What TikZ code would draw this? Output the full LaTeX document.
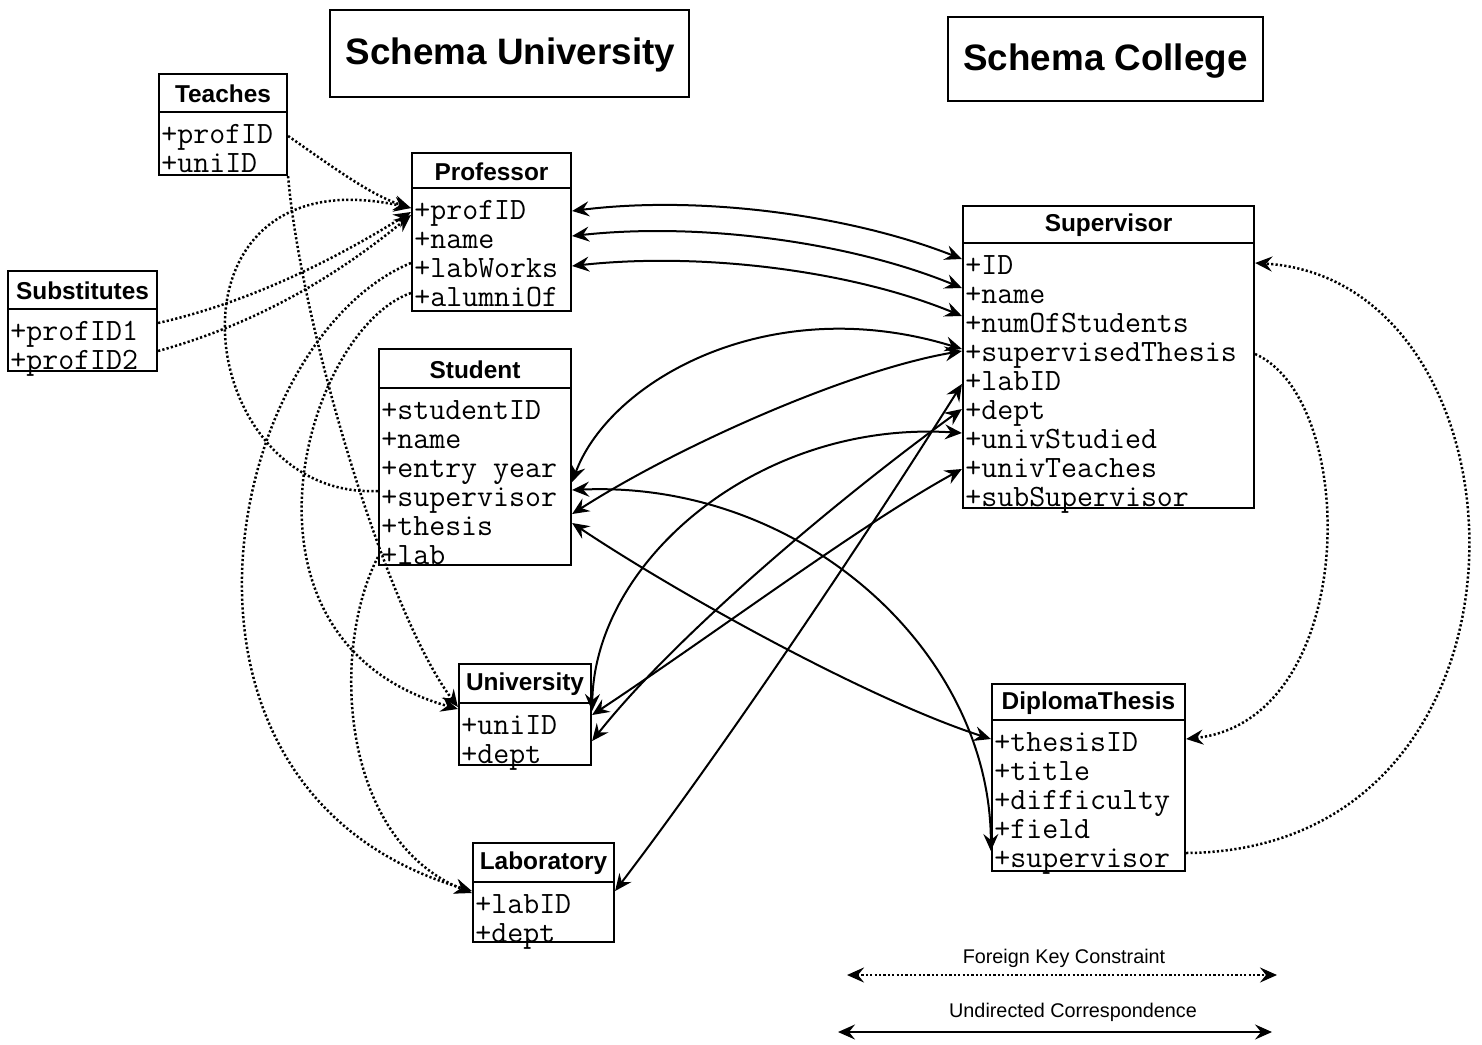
\documentclass[tikz,border=0pt]{standalone}
\usepackage{fontspec}
\setmainfont{Liberation Sans}
\usetikzlibrary{arrows.meta,calc,fit}

\tikzset{
  hd/.tip={Stealth[length=8.5pt,width=7.5pt,inset=3pt]},
  classline/.style={line width=1.1pt},
  hdr/.style={font=\fontsize{12.2}{14}\selectfont\bfseries, inner sep=0pt},
  attr/.style={font=\fontsize{15.5}{18}\selectfont\ttfamily, inner sep=0pt,
               anchor=base west, text height=10pt, text depth=3pt},
  titletext/.style={font=\fontsize{18.4}{22}\selectfont\bfseries, inner sep=0pt},
  legendtext/.style={font=\fontsize{9.9}{12}\selectfont, inner sep=0pt},
  corr/.style={line width=1pt, arrows={hd-hd}},
  fkey/.style={line width=1.25pt, dash pattern=on 1.1pt off 1.1pt, arrows={-hd}},
}

% #1 id, #2 class name, #3-#6 box corners, #7 y of the rule under the name, #8 attributes
\newcommand{\umlclass}[8]{%
  \node[fit={(#3,#4) (#5,#6)}, inner sep=0pt, draw, classline] (#1) {};
  \draw[classline] (#3,#7) -- (#5,#7);
  \node[hdr] (#1-title) at ({(#3+#5)/2},{(#4+#7)/2+1}) {#2};
  \foreach \attrtext [count=\i] in {#8} {
    \node[attr] (#1-\i) at ({#3+2},{#7+31+29*(\i-1)}) {\attrtext};
    \coordinate (#1-\i-w) at (#1.west |- #1-\i);
    \coordinate (#1-\i-e) at (#1.east |- #1-\i);
  }
}

\begin{document}
\begin{tikzpicture}[x=0.5pt, y=-0.5pt]
\fill[white] (0,0) rectangle (1482,1044);
\useasboundingbox (0,0) rectangle (1482,1044);

% schema titles
\node[fit={(330,10) (689,97)}, inner sep=0pt, draw, classline] (uni-box) {};
\node[titletext] (uni-name) at ($(uni-box.center)+(1,1)$) {Schema University};
\node[fit={(948,17) (1263,101)}, inner sep=0pt, draw, classline] (col-box) {};
\node[titletext] (col-name) at ($(col-box.center)+(0,2)$) {Schema College};

% classes of Schema University
\umlclass{teach}{Teaches}{159}{74}{287}{175}{112}{+profID,+uniID}
\umlclass{subs}{Substitutes}{8}{271}{157}{371}{309}{+profID1,+profID2}
\umlclass{prof}{Professor}{412}{153}{571}{311}{188}{+profID,+name,+labWorks,+alumniOf}
\umlclass{stud}{Student}{379}{349}{571}{565}{388}{+studentID,+name,+entry year,+supervisor,+thesis,+lab}
\umlclass{univ}{University}{459}{664}{591}{765}{703}{+uniID,+dept}
\umlclass{lab}{Laboratory}{473}{843}{614}{942}{882}{+labID,+dept}

% classes of Schema College
\umlclass{sup}{Supervisor}{963}{206}{1254}{508}{243}{+ID,+name,+numOfStudents,+supervisedThesis,+labID,+dept,+univStudied,+univTeaches,+subSupervisor}
\umlclass{dip}{DiplomaThesis}{992}{684}{1185}{871}{720}{+thesisID,+title,+difficulty,+field,+supervisor}

% correspondences
\draw[corr] ($(prof-1-e)+(0,-1)$) .. controls (700,195) and (850,215) .. ($(sup-1-w)+(0,-8)$);
\draw[corr] ($(prof-2-e)+(0,-5)$) .. controls (700,222) and (850,242) .. ($(sup-2-w)+(0,-8)$);
\draw[corr] ($(prof-3-e)+(0,-4)$) .. controls (700,252) and (850,270) .. ($(sup-3-w)+(0,-9)$);
\draw[corr] ($(stud-4-e)+(0,-17)$) .. controls (610,380) and (770,290) .. ($(sup-4-w)+(0,-5)$);
\draw[corr] ($(stud-5-e)+(0,-14)$) .. controls (680,445) and (850,370) .. ($(sup-4-w)+(0,-3)$);
\draw[corr] ($(stud-5-e)+(0,-5)$) .. controls (680,595) and (870,700) .. ($(dip-1-w)+(0,-5)$);
\draw[corr] ($(stud-4-e)+(0,-9)$) .. controls (800,480) and (990,650) .. ($(dip-5-w)+(0,-9)$);
\draw[corr] ($(univ-1-e)+(0,-16)$) .. controls (595,560) and (760,420) .. ($(sup-7-w)+(0,-8)$);
\draw[corr] ($(univ-1-e)+(0,-12)$) .. controls (720,630) and (860,525) .. ($(sup-8-w)+(0,-1)$);
\draw[corr] ($(univ-2-e)+(0,-15)$) .. controls (680,630) and (850,490) .. ($(sup-6-w)+(0,-3)$);
\draw[corr] ($(lab-1-e)+(0,-15)$) .. controls (730,740) and (870,530) .. ($(sup-5-w)+(0,1)$);

% foreign keys
\draw[fkey] (teach-1-e) .. controls (330,165) and (370,195) .. ($(prof-1-w)+(0,-4)$);
\draw[fkey] ($(subs-1-e)+(0,-10)$) .. controls (260,300) and (350,250) .. (prof-1-w);
\draw[fkey] ($(subs-2-e)+(0,-11)$) .. controls (270,320) and (350,265) .. ($(prof-1-w)+(0,3)$);
\draw[fkey] ($(stud-4-w)+(0,-8)$) .. controls (190,500) and (150,150) .. ($(prof-1-w)+(0,-4)$);
\draw[fkey] ($(prof-3-w)+(0,-7)$) .. controls (225,340) and (130,790) .. ($(lab-1-w)+(0,-15)$);
\draw[fkey] ($(prof-4-w)+(0,-6)$) .. controls (305,330) and (215,640) .. ($(univ-1-w)+(0,-18)$);
\draw[fkey] (stud-6-w) .. controls (330,650) and (340,840) .. ($(lab-1-w)+(0,-13)$);
\draw[fkey] (teach.south east) .. controls (300,320) and (385,610) .. ($(univ-1-w)+(0,-20)$);
\draw[fkey] (sup-4-e) .. controls (1360,400) and (1360,720) .. ($(dip-1-e)+(0,-5)$);
\draw[fkey] ($(dip-5-e)+(0,-7)$) .. controls (1560,850) and (1540,280) .. ($(sup-1-e)+(0,-4)$);

% legend
\node[legendtext] (fk-text) at (1064,958) {Foreign Key Constraint};
\coordinate (fk-a) at (847,975);
\coordinate (fk-b) at (1277,975);
\draw[fkey, arrows={hd-hd}] (fk-a) -- (fk-b);
\node[legendtext] (uc-text) at (1073,1012) {Undirected Correspondence};
\coordinate (uc-a) at (838,1032);
\coordinate (uc-b) at (1272,1032);
\draw[corr] (uc-a) -- (uc-b);
\end{tikzpicture}
\end{document}
